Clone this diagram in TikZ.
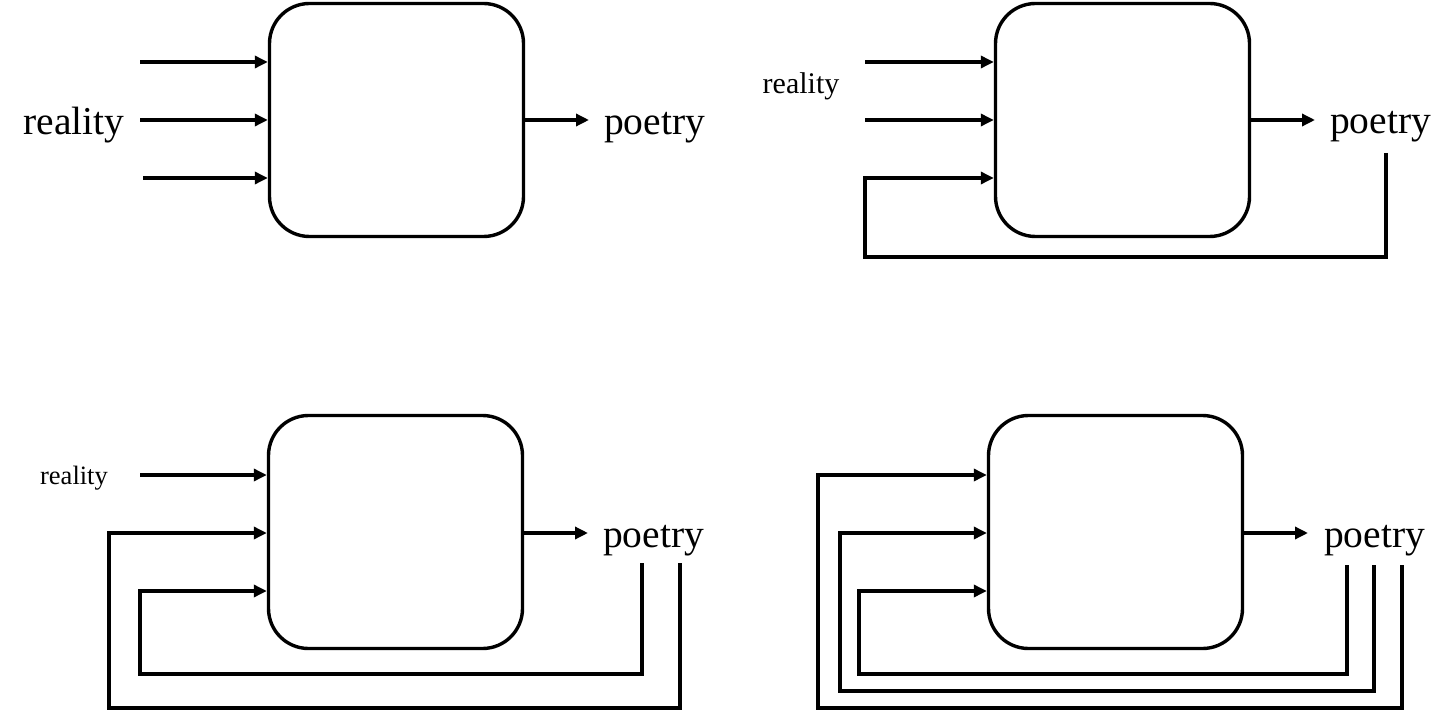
\documentclass[tikz,border=0pt]{standalone}
\usepackage{fontspec}
\setmainfont{Liberation Serif}
\usetikzlibrary{arrows.meta}
\begin{document}
\begin{tikzpicture}[x=1pt,y=-1pt,
  blk/.style={draw=black,line width=3.4pt,rounded corners=40pt,minimum width=254pt,minimum height=233pt,inner sep=0pt},
  arr/.style={line width=3.4pt,-{Triangle[length=13pt,width=12pt]}},
  big/.style={inner sep=0pt,font=\fontsize{39.5}{39.5}\selectfont},
  mid/.style={inner sep=0pt,font=\fontsize{30}{30}\selectfont},
  sml/.style={inner sep=0pt,font=\fontsize{26.5}{26.5}\selectfont}]
\useasboundingbox (0,0) rectangle (1456,711);
% ---------- panel 1
\node[blk] (b1) at (396.5,120) {};
\node[big,anchor=base] (r1) at (74,135) {reality};
\node[big,anchor=base west] (p1) at (604,135) {poetry};
\coordinate (a11) at (140,62);
\coordinate (a12) at (140,120);
\coordinate (a13) at (143,178);
\coordinate (o1) at (589,120);
\draw[arr] (a11) -- (a11 -| b1.west);
\draw[arr] (a12) -- (a12 -| b1.west);
\draw[arr] (a13) -- (a13 -| b1.west);
\draw[arr] (b1.east) -- (o1);
% ---------- panel 2
\node[blk] (b2) at (1122.5,120) {};
\node[mid,anchor=base] (r2) at (801,94) {reality};
\node[big,anchor=base west] (p2) at (1330,134) {poetry};
\coordinate (a21) at (865,62);
\coordinate (a22) at (865,120);
\coordinate (l23) at (865,178);
\coordinate (f2) at (1386,153);
\coordinate (c2) at (865,257);
\coordinate (o2) at (1315,120);
\draw[arr] (a21) -- (a21 -| b2.west);
\draw[arr] (a22) -- (a22 -| b2.west);
\draw[arr] (f2) |- (c2) -- (l23) -- (l23 -| b2.west);
\draw[arr] (b2.east) -- (o2);
% ---------- panel 3
\node[blk] (b3) at (395.5,532) {};
\node[sml,anchor=base] (r3) at (74,484) {reality};
\node[big,anchor=base west] (p3) at (603,547) {poetry};
\coordinate (a31) at (140,475);
\coordinate (l32) at (109,533);
\coordinate (l33) at (140,591);
\coordinate (f31) at (642,563);
\coordinate (f32) at (680,563);
\coordinate (c31) at (140,674);
\coordinate (c32) at (109,708);
\coordinate (o3) at (588,533);
\draw[arr] (a31) -- (a31 -| b3.west);
\draw[arr] (f32) |- (c32) -- (l32) -- (l32 -| b3.west);
\draw[arr] (f31) |- (c31) -- (l33) -- (l33 -| b3.west);
\draw[arr] (o3 -| b3.east) -- (o3);
% ---------- panel 4
\node[blk] (b4) at (1115.5,532) {};
\node[big,anchor=base west] (p4) at (1324,547) {poetry};
\coordinate (l41) at (818,475);
\coordinate (l42) at (840,533);
\coordinate (l43) at (859,591);
\coordinate (f41) at (1347,565);
\coordinate (f42) at (1374,565);
\coordinate (f43) at (1402,565);
\coordinate (c41) at (859,674);
\coordinate (c42) at (840,691);
\coordinate (c43) at (818,708);
\coordinate (o4) at (1308,533);
\draw[arr] (f43) |- (c43) -- (l41) -- (l41 -| b4.west);
\draw[arr] (f42) |- (c42) -- (l42) -- (l42 -| b4.west);
\draw[arr] (f41) |- (c41) -- (l43) -- (l43 -| b4.west);
\draw[arr] (o4 -| b4.east) -- (o4);
\end{tikzpicture}
\end{document}
